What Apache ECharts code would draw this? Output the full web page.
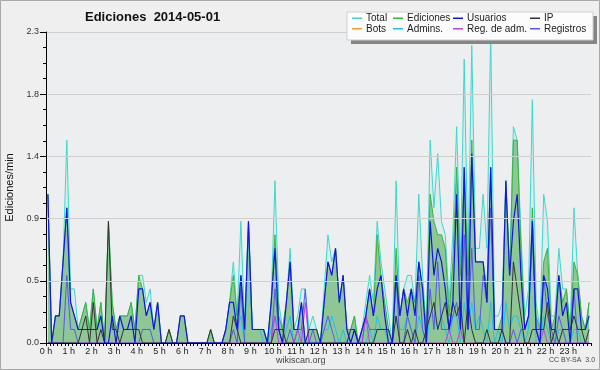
<!DOCTYPE html>
<html><head><meta charset="utf-8">
<script src="https://cdn.jsdelivr.net/npm/echarts@6/dist/echarts.min.js"></script>
<style>html,body{margin:0;padding:0;background:#efefef}#c{width:600px;height:370px}</style>
</head><body><div id="c"></div>
<script>
// Edits per minute, 10-minute bins, 2014-05-01
const hourTicks = ['0 h','1 h','2 h','3 h','4 h','5 h','6 h','7 h','8 h','9 h','10 h','11 h','12 h','13 h','14 h','15 h','16 h','17 h','18 h','19 h','20 h','21 h','22 h','23 h'];
const yTickLabels = ['0.0','0.5','0.9','1.4','1.8','2.3'];

const total = [1.1,0,0.2,0.2,0.6,1.5,0.4,0.4,0.1,0.2, 0.3,0.1,0.4,0.1,0.3,0,0.9,0.3,0.1,0.2, 0.2,0.2,0.3,0.1,0.5,0.5,0.3,0.4,0.1,0.3, 0,0,0.1,0,0,0.2,0.2,0,0,0, 0,0,0,0.1,0,0,0,0.1,0.3,0.6, 0.2,0.9,0.1,0.9,0.1,0.1,0.1,0.1,0,0.3, 1.2,0.3,0.1,0.3,0.7,0.1,0.2,0.4,0.4,0.1, 0.2,0.1,0,0.4,0.8,0.6,0.7,0.3,0.5,0.1, 0.1,0.2,0,0.1,0.3,0.5,0.3,0.9,0.6,0.4, 0.2,0,1.2,0.2,0.4,0.5,0.5,0.3,1.1,0.5, 0.1,1.5,1.0,1.4,0.9,0.8,0.3,0.8,1.6,0.6, 2.1,0.6,2.2,0.7,0.7,1.1,0.7,2.3,0.2,0.2, 0.3,1.2,0.5,1.6,1.5,0.8,0.2,0.4,1.8,0.3, 0.1,1.1,0.9,0.2,0.2,0.7,0.4,0.4,0.1,1.0, 0.5,0.2,0.1,0.3];
const ediciones = [1.1,0,0.2,0.2,0.6,1.0,0.3,0.2,0.1,0.2, 0.3,0.1,0.4,0.1,0.3,0,0.9,0.3,0.1,0.2, 0.2,0.2,0.3,0.1,0.5,0.4,0.2,0.3,0.1,0.3, 0,0,0.1,0,0,0.2,0.2,0,0,0, 0,0,0,0.1,0,0,0,0.1,0.3,0.5, 0.2,0.5,0.1,0.9,0.1,0.1,0.1,0.1,0,0.3, 0.8,0.2,0.1,0.3,0.6,0.1,0.1,0.3,0,0.1, 0.1,0.1,0,0.3,0.6,0.5,0.7,0.3,0.5,0.1, 0.1,0.2,0,0.1,0.2,0.4,0.2,0.8,0.5,0.3, 0.1,0,0.7,0.2,0.4,0.3,0.4,0.3,0.6,0.4, 0.1,1.1,0.9,0.8,0.8,0.7,0.2,0.6,1.3,0.5, 1.3,0.5,1.5,0.6,0.6,0.6,0.4,1.3,0.1,0.1, 0.2,1.2,0.5,1.5,1.5,0.7,0.1,0.2,1.0,0.2, 0.1,0.6,0.7,0.1,0.2,0.5,0.3,0.4,0.1,0.6, 0.5,0.2,0.1,0.3];
const usuarios = [1.1,0,0.2,0.2,0.6,1.0,0.3,0.2,0.1,0.1, 0.1,0.1,0.1,0.1,0.2,0,0,0.2,0,0.2, 0.1,0.1,0.2,0,0.4,0.4,0.2,0.3,0.1,0.3, 0,0,0,0,0,0.2,0.2,0,0,0, 0,0,0,0,0,0,0,0.1,0.3,0.3, 0.1,0.5,0.1,0.9,0.1,0.1,0.1,0.1,0,0.3, 0.7,0.1,0,0.3,0.6,0.1,0.1,0.3,0,0, 0,0,0,0.3,0.6,0.5,0.7,0.3,0.5,0.1, 0,0.1,0,0.1,0.2,0.4,0.2,0.4,0.5,0.2, 0,0,0.5,0.2,0.4,0.2,0.4,0.2,0.6,0.4, 0,0.9,0.5,0.7,0.6,0.4,0.1,0.3,1.1,0.1, 1.3,0.1,1.4,0.6,0.6,0.6,0.3,1.3,0.1,0.1, 0.1,1.2,0.5,0.9,1.1,0.5,0.1,0.2,0.9,0.1, 0,0.5,0.4,0.1,0.1,0.5,0.2,0.3,0,0.4, 0.4,0.1,0.1,0.2];
const ip = [0,0,0,0,0,0,0,0,0,0.1, 0.2,0,0.3,0,0.1,0,0.9,0.1,0.1,0, 0.1,0.1,0.1,0.1,0.1,0,0,0,0,0, 0,0,0.1,0,0,0,0,0,0,0, 0,0,0,0.1,0,0,0,0,0,0.2, 0.1,0,0,0,0,0,0,0,0,0, 0.1,0.1,0.1,0,0,0,0,0,0,0.1, 0.1,0.1,0,0,0,0,0,0,0,0, 0.1,0.1,0,0,0,0,0,0.1,0.1,0.1, 0.1,0,0.2,0,0,0.1,0,0.1,0,0, 0.1,0.2,0.3,0.1,0.2,0.3,0.1,0.3,0.2,0.3, 0,0.3,0.1,0,0,0,0.1,0,0,0, 0.1,0,0,0.6,0.4,0.2,0,0,0.1,0.1, 0.1,0.1,0.3,0,0.1,0,0.1,0.1,0.1,0.2, 0.1,0.1,0,0.1];
const bots = [0,0,0,0,0,0,0,0,0,0, 0,0,0,0,0,0,0,0,0,0, 0,0,0,0,0,0,0,0,0,0, 0,0,0,0,0,0,0,0,0,0, 0,0,0,0,0,0,0,0,0,0, 0,0,0,0,0,0,0,0,0,0, 0,0,0,0,0,0,0,0,0,0, 0,0,0,0,0,0,0,0,0,0, 0,0,0,0,0,0,0,0,0,0, 0,0,0,0,0,0,0,0,0,0, 0,0,0,0,0,0,0,0,0,0, 0,0,0,0,0,0,0,0,0,0, 0,0,0,0,0,0,0,0,0,0, 0,0,0,0,0,0,0,0,0,0, 0,0,0,0];
const admins = [0,0,0,0,0,0,0,0,0,0, 0,0,0,0,0,0,0,0,0,0, 0,0,0,0,0,0,0,0,0,0, 0,0,0,0,0,0,0,0,0,0, 0,0,0,0,0,0,0,0.1,0.3,0.3, 0.1,0.2,0,0.8,0.1,0.1,0.1,0,0,0.1, 0.2,0.1,0,0.1,0.2,0,0,0.1,0,0, 0,0,0,0.1,0.1,0.2,0.1,0,0.1,0, 0,0,0,0,0,0.1,0,0.2,0.1,0.1, 0,0,0.2,0.1,0.1,0.2,0.1,0,0.2,0.1, 0,0.2,0.2,0.1,0.2,0.1,0,0.2,0.2,0, 0.3,0.1,0.3,0.1,0.2,0.1,0,0.3,0,0.1, 0,0.3,0.1,0.2,0.2,0.1,0,0.1,0.9,0, 0,0.2,0.1,0,0,0.1,0.1,0,0,0.1, 0.1,0,0,0];
const regAdm = [0,0,0,0,0,0,0,0,0,0, 0,0,0,0,0,0,0,0,0,0, 0,0,0,0,0,0,0,0,0,0, 0,0,0,0,0,0,0,0,0,0, 0,0,0,0,0,0,0,0,0,0, 0,0,0,0,0,0,0,0,0,0, 0.2,0,0,0,0,0,0.1,0,0.3,0, 0,0,0,0,0,0,0,0,0,0, 0,0,0,0,0.2,0,0,0,0,0, 0,0,0,0,0,0,0,0,0,0, 0,0,0,0,0,0,0.1,0,0,0.1, 0,0,0,0,0,0,0,0,0,0, 0,0,0,0,0,0,0,0,0,0, 0,0.1,0,0,0,0,0,0,0,0, 0,0,0,0];
const registros = [0,0,0,0,0,0.5,0.1,0.1,0,0, 0,0,0,0,0,0,0,0,0,0, 0,0,0,0,0,0.1,0.1,0.1,0,0, 0,0,0,0,0,0,0,0,0,0, 0,0,0,0,0,0,0,0,0,0.1, 0,0.4,0,0,0,0,0,0,0,0, 0.4,0.1,0,0,0.1,0,0.1,0.1,0.4,0, 0.1,0,0,0.1,0.2,0.1,0,0,0,0, 0,0,0,0,0.2,0.1,0.1,0.1,0.1,0.1, 0.1,0,0.5,0,0,0.2,0.1,0,0.5,0.1, 0,0.4,0.1,0.6,0.1,0.1,0.1,0.2,0.3,0.1, 0.8,0.1,0.7,0.1,0.1,0.5,0.3,1.0,0.1,0.1, 0.1,0,0,0.1,0,0.1,0.1,0.2,0.8,0.1, 0,0.5,0.2,0.1,0,0.2,0.1,0,0,0.4, 0,0,0,0];

// time of each 10-minute bin (centre), in hours
const slotHours = total.map((_, i) => (i + 0.5) / 6);
const pts = arr => arr.map((v, i) => [slotHours[i], v]);

const FONT = 'Liberation Sans';
const chart = echarts.init(document.getElementById('c'), null, {renderer: 'canvas'});

function line(name, data, color, z, width, area) {
  const s = {
    name, type: 'line', data: pts(data), showSymbol: false, symbol: 'none',
    z, lineStyle: {color, width: width || 1}, itemStyle: {color}, animation: false
  };
  if (area) s.areaStyle = {color: area, opacity: 1, origin: 'start'};
  return s;
}

const legendBase = {
  orient: 'vertical', top: 13, itemWidth: 10, itemHeight: 1.5, icon: 'rect', itemGap: 0,
  textStyle: {fontFamily: FONT, fontSize: 10, color: '#222', lineHeight: 10.5, padding: [0,0,0,-1]},
  selectedMode: false, padding: 0
};

chart.setOption({
  backgroundColor: '#efefef',
  animation: false,
  title: {
    text: 'Ediciones  2014-05-01', left: 85, top: 11, padding: 0,
    textStyle: {fontFamily: FONT, fontWeight: 'bold', fontSize: 13, color: '#111'}
  },
  graphic: [
    {type: 'rect', shape: {x: 0.5, y: 0.5, width: 599, height: 369}, style: {fill: 'none', stroke: '#a8a8a8', lineWidth: 1}, z: 100},
    {type: 'rect', shape: {x: 351, y: 16, width: 246, height: 28}, style: {fill: '#858585'}, z: 50},
    {type: 'rect', shape: {x: 347, y: 12, width: 246, height: 28}, style: {fill: '#fcfcfc', stroke: '#cfcfcf', lineWidth: 1}, z: 51},
    {type: 'text', left: 276, top: 356, style: {text: 'wikiscan.org', font: '9px "Liberation Sans"', fill: '#444'}, z: 60},
    {type: 'text', left: 549, top: 357, style: {text: 'CC BY-SA  3.0', font: '7px "Liberation Sans"', fill: '#444'}, z: 60}
  ],
  legend: [
    Object.assign({}, legendBase, {left: 352, data: ['Total', 'Bots'], z: 60}),
    Object.assign({}, legendBase, {left: 393, data: ['Ediciones', 'Admins.'], z: 60}),
    Object.assign({}, legendBase, {left: 453, data: ['Usuarios', 'Reg. de adm.'], z: 60}),
    Object.assign({}, legendBase, {left: 530, data: ['IP', 'Registros'], z: 60})
  ],
  grid: {left: 46, right: 9, top: 32, bottom: 27, show: true, backgroundColor: '#eceef0', borderWidth: 0,
    containLabel: false, outerBoundsMode: 'none'},
  xAxis: {
    type: 'value', min: 0, max: 24, interval: 1, z: 10,
    axisLine: {show: true, lineStyle: {color: '#000', width: 1}, onZero: false},
    axisTick: {show: true, length: 3, lineStyle: {color: '#000'}},
    minorTick: {show: true, splitNumber: 6, length: 3, lineStyle: {color: '#000'}},
    splitLine: {show: false},
    axisLabel: {fontFamily: FONT, fontSize: 9, color: '#222', margin: 4,
      formatter: v => (v < hourTicks.length ? hourTicks[v] : '')}
  },
  yAxis: {
    type: 'value', min: 0, max: 2.3, interval: 0.46, z: 10,
    name: 'Ediciones/min', nameLocation: 'middle', nameGap: 24, nameRotate: 90,
    nameTextStyle: {fontFamily: FONT, fontSize: 11, color: '#111'},
    axisLine: {show: true, lineStyle: {color: '#000', width: 1}},
    axisTick: {show: true, length: 6, lineStyle: {color: '#000'}},
    minorTick: {show: true, splitNumber: 4, length: 3, lineStyle: {color: '#000'}},
    splitLine: {show: true, lineStyle: {color: '#cfcfcf', width: 1}},
    axisLabel: {fontFamily: FONT, fontSize: 9, color: '#333', margin: 7,
      formatter: v => yTickLabels[Math.round(v / 0.46)]}
  },
  series: [
    line('Total', total, '#3dd8cc', 2, 1, 'rgba(80,220,210,0.10)'),
    line('Ediciones', ediciones, '#3cb43c', 3, 1, 'rgba(70,165,70,0.52)'),
    line('Bots', bots, '#f0a040', 1, 1),
    line('Admins.', admins, '#22c4e0', 5, 1),
    line('Registros', registros, '#5858f0', 6, 1),
    line('Reg. de adm.', regAdm, '#c040e0', 7, 1),
    line('IP', ip, '#333333', 8, 1),
    line('Usuarios', usuarios, '#1414e6', 9, 1.2)
  ]
});
</script></body></html>
